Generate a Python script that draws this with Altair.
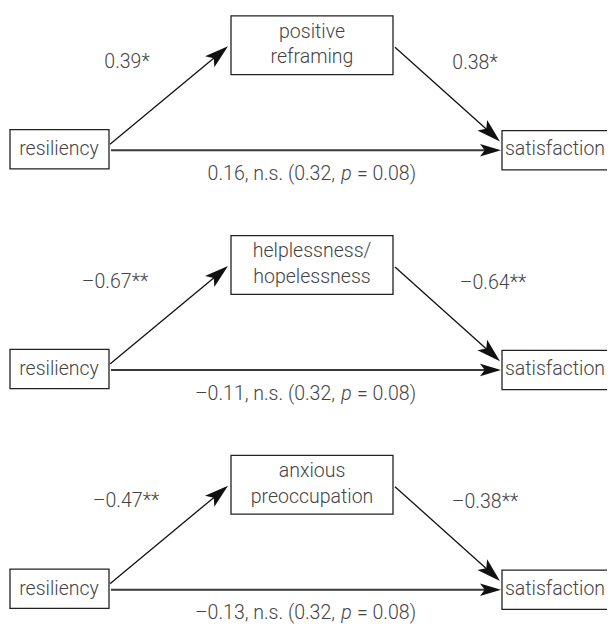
import math
import altair as alt
import pandas as pd

# ---------------- data ----------------
panel_offsets = [0, 224, 448]
mediator_lines = [["positive", "reframing"],
                  ["helplessness/", "hopelessness"],
                  ["anxious", "preoccupation"]]
predictor = "resiliency"
outcome = "satisfaction"
a_labels = ["0.39*", "–0.67**", "–0.47**"]
b_labels = ["0.38*", "–0.64**", "–0.38**"]
c_direct = ["0.16", "–0.11", "–0.13"]
c_total = ["0.32", "0.32", "0.32"]
p_values = ["0.08", "0.08", "0.08"]
a_label_x = [127, 115, 126]
b_label_x = [475, 493, 485]

# layout of one panel (pixel positions within a panel)
box_pred = (10, 109, 132, 172)
box_out = (502, 620, 133, 173)
box_med = (231, 393, 16, 76)
arrows = [  # x1, y1, x2(tip), y2(tip), head length, line width, colour
    (111, 153, 501, 153, 21, 2.0, "#3a3a3a"),
    (110, 147, 228, 47, 24, 1.3, "#111111"),
    (395, 48, 500, 144, 24, 1.3, "#111111"),
]

FONT = "Roboto"
FS = 19.5
TXT = "#444444"

# ---------------- tables ----------------
box_rows, line_rows, head_rows = [], [], []
center_txt, right_txt, left_txt, ital_txt = [], [], [], []
for i, off in enumerate(panel_offsets):
    for (x1, x2, y1, y2) in (box_pred, box_out, box_med):
        box_rows.append(dict(x=x1, x2=x2, y=y1 + off, y2=y2 + off))
    for k, (x1, y1, tx, ty, hl, lw, col) in enumerate(arrows):
        dx, dy = tx - x1, ty - y1
        L = math.hypot(dx, dy)
        ux, uy = dx / L, dy / L
        ex, ey = tx - ux * hl * 0.7, ty - uy * hl * 0.7
        line_rows.append(dict(x=x1, y=y1 + off, x2=ex, y2=ey + off,
                              w=lw, c=col, k=f"{i}-{k}"))
        ang = math.degrees(math.atan2(dx, -dy)) % 360
        head_rows.append(dict(x=tx, y=ty + off, angle=ang, size=hl * hl,
                              k=f"{i}-{k}"))
    cx_med = (box_med[0] + box_med[1]) / 2
    center_txt.append(dict(x=cx_med, y=32 + off, t=mediator_lines[i][0]))
    center_txt.append(dict(x=cx_med, y=58 + off, t=mediator_lines[i][1]))
    center_txt.append(dict(x=59, y=152 + off, t=predictor))
    center_txt.append(dict(x=555, y=152 + off, t=outcome))
    center_txt.append(dict(x=a_label_x[i], y=63 + off, t=a_labels[i]))
    center_txt.append(dict(x=b_label_x[i], y=64 + off, t=b_labels[i]))
    right_txt.append(dict(x=335, y=177 + off, t=f"{c_direct[i]}, n.s. ({c_total[i]},"))
    ital_txt.append(dict(x=346.5, y=177 + off, t="p"))
    left_txt.append(dict(x=357, y=177 + off, t=f"= {p_values[i]})"))

boxes = pd.DataFrame(box_rows)
lines = pd.DataFrame(line_rows)
heads = pd.DataFrame(head_rows)

X = lambda f="x": alt.X(f"{f}:Q", scale=alt.Scale(domain=[8, 607], nice=False, zero=False), axis=None)
Y = lambda f="y": alt.Y(f"{f}:Q", scale=alt.Scale(domain=[8, 638], reverse=True, nice=False, zero=False), axis=None)

box_layer = alt.Chart(boxes).mark_rect(fill="white", stroke="#222222", strokeWidth=1.3).encode(
    x=X(), x2="x2:Q", y=Y(), y2="y2:Q")

line_layer = alt.Chart(lines).mark_rule(strokeCap="butt").encode(
    x=X(), x2="x2:Q", y=Y(), y2="y2:Q",
    strokeWidth=alt.StrokeWidth("w:Q", scale=None),
    color=alt.Color("c:N", scale=None))

ARROW = "M0,0 L0.6,2 L0,1.55 L-0.6,2 Z"
head_layer = alt.Chart(heads).mark_point(shape=ARROW, filled=True, color="#111111",
                                         opacity=1, strokeWidth=0).encode(
    x=X(), y=Y(),
    angle=alt.Angle("angle:Q", scale=None),
    size=alt.Size("size:Q", scale=None))

def text_layer(rows, align, style="normal"):
    return alt.Chart(pd.DataFrame(rows)).mark_text(
        align=align, baseline="middle", font=FONT, fontSize=FS, fontWeight=300,
        fontStyle=style, color=TXT).encode(x=X(), y=Y(), text="t:N")

chart = alt.layer(
    line_layer, head_layer, box_layer,
    text_layer(center_txt, "center"),
    text_layer(right_txt, "right"),
    text_layer(left_txt, "left"),
    text_layer(ital_txt, "center", "italic"),
).properties(
    width=599, height=618,
    autosize=alt.AutoSizeParams(type="none"),
    padding=0,
).configure_view(stroke=None)

chart.save("out.html", embed_options={"renderer": "svg", "actions": False})
